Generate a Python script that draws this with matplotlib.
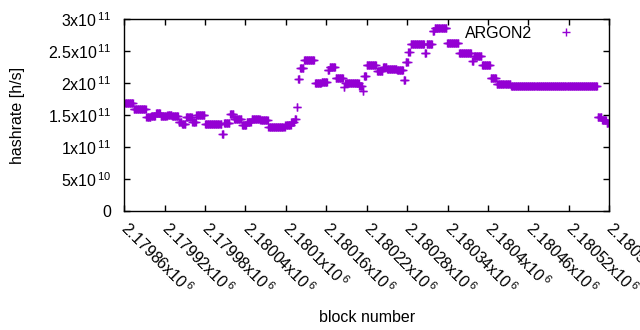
import numpy as np
import matplotlib.pyplot as plt

plt.rcParams['font.family'] = ['Liberation Sans', 'DejaVu Sans']
plt.rcParams['mathtext.fontset'] = 'custom'
plt.rcParams['mathtext.rm'] = 'Liberation Sans'
plt.rcParams['mathtext.it'] = 'Liberation Sans:italic'
plt.rcParams['mathtext.bf'] = 'Liberation Sans:bold'

# hashrate stays constant over runs of blocks: (run length, value in 1e11 h/s)
first_block = 2179861
run_lengths = [13, 19, 7, 7, 7, 10, 7, 10, 5, 6,
               9, 6, 13, 25, 3, 9, 6, 12, 7, 7,
               13, 12, 25, 9, 5, 3, 2, 3, 6, 16,
               10, 9, 3, 9, 12, 2, 21, 5, 2, 4,
               15, 9, 6, 15, 10, 3, 4, 3, 21, 3,
               9, 3, 18, 18, 19, 3, 12, 13, 9, 21,
               129, 6, 7, 3]
run_values = [1.685, 1.59, 1.47, 1.49, 1.53, 1.49, 1.50, 1.49, 1.40, 1.36,
              1.47, 1.40, 1.50, 1.36, 1.20, 1.37, 1.51, 1.44, 1.345, 1.40,
              1.44, 1.425, 1.32, 1.345, 1.40, 1.44, 1.63, 2.06, 2.23, 2.37,
              2.01, 2.02, 2.20, 2.26, 2.08, 1.94, 2.00, 1.95, 1.87, 2.11,
              2.285, 2.19, 2.26, 2.22, 2.20, 2.05, 2.33, 2.49, 2.61, 2.47,
              2.62, 2.81, 2.86, 2.63, 2.48, 2.34, 2.43, 2.285, 2.08, 1.985,
              1.96, 1.475, 1.425, 1.37]

xticks = [2179860, 2179920, 2179980, 2180040, 2180100, 2180160, 2180220,
          2180280, 2180340, 2180400, 2180460, 2180520, 2180580]
xtick_mant = ['2.17986', '2.17992', '2.17998', '2.18004', '2.1801', '2.18016',
              '2.18022', '2.18028', '2.18034', '2.1804', '2.18046', '2.18052',
              '2.18058']
yticks = [0, 5e10, 1e11, 1.5e11, 2e11, 2.5e11, 3e11]
ytick_labels = ['0', r'5x10$^{\,10}$', r'1x10$^{\,11}$', r'1.5x10$^{\,11}$',
                r'2x10$^{\,11}$', r'2.5x10$^{\,11}$', r'3x10$^{\,11}$']

blocks = first_block + np.arange(sum(run_lengths))
hashrate = np.repeat(run_values, run_lengths) * 1e11

fs = 11.5
fig = plt.figure(figsize=(6.4, 3.3), dpi=100)
ax = fig.add_axes([0.194, 0.3606, 0.758, 0.581])

ax.plot(blocks, hashrate, linestyle='none', marker='+', color='#9400d3',
        ms=5.5, mew=1, label='ARGON2')

ax.set_xlim(2179860, 2180580)
ax.set_ylim(0, 3e11)
ax.set_xticks(xticks)
ax.set_xticklabels([m + r'x10$^{\,6}$' for m in xtick_mant], rotation=-45,
                   ha='left', va='center', rotation_mode='anchor')
ax.set_yticks(yticks)
ax.set_yticklabels(ytick_labels)
ax.tick_params(direction='in', top=True, right=True, length=4, width=1,
               labelsize=fs)
ax.tick_params(axis='x', pad=10)
ax.tick_params(axis='y', pad=9)
for s in ax.spines.values():
    s.set_linewidth(1)

ax.set_xlabel('block number', fontsize=fs)
ax.set_ylabel('hashrate [h/s]', fontsize=fs)
ax.xaxis.set_label_coords(0.5, -0.516)
ax.yaxis.set_label_coords(-0.204, 0.5)

ax.legend(loc='upper right', bbox_to_anchor=(0.956, 1.0), borderaxespad=0,
          markerfirst=False, frameon=False, handlelength=2, handletextpad=1.1,
          fontsize=fs)

fig.savefig('out.png', dpi=100)
